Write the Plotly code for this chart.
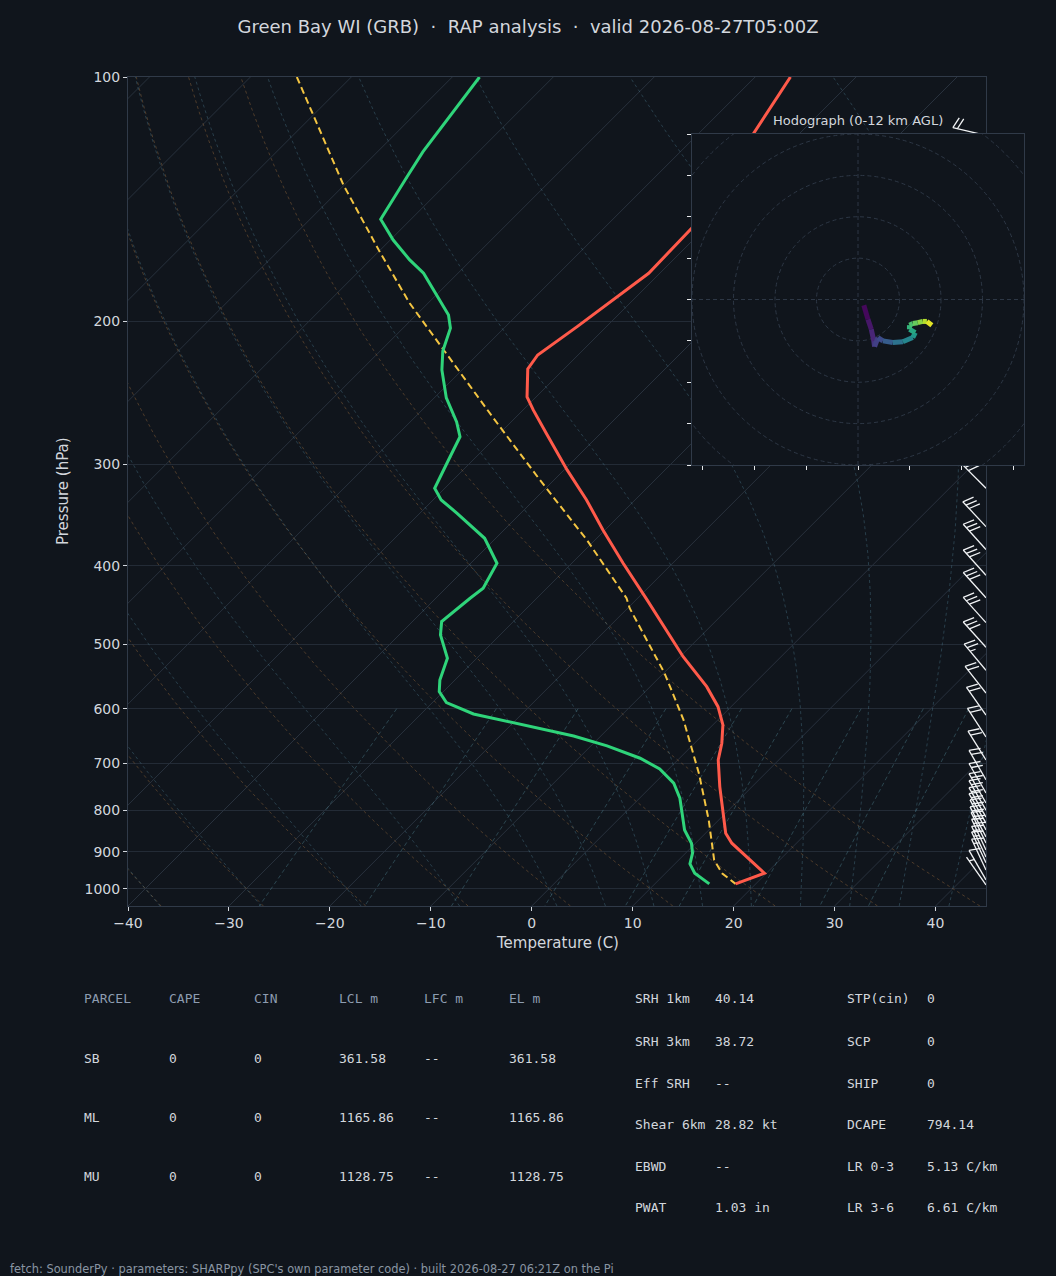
import numpy as np
import plotly.graph_objects as go
from plotly.colors import sample_colorscale

# ---------------- sounding data ----------------
t_pres = [100, 125, 153.5, 174.5, 188.2, 203.0, 220.0, 228.9, 247.8, 257.1, 274.7,
          304.8, 331.9, 361.4, 397.2, 440.7, 517.7, 563.6, 596.5, 628.3, 661.7,
          693.8, 748.4, 807.0, 854.1, 878.7, 930.0, 956.8, 986.2]
t_temp = [-56.5, -53.8, -51.3, -51.1, -52.0, -52.9, -54.0, -53.6, -50.9, -49.0, -45.4,
          -39.7, -34.8, -30.2, -24.9, -18.9, -9.7, -4.4, -1.3, 1.0, 2.7,
          4.0, 6.8, 9.8, 12.0, 13.6, 17.7, 19.8, 18.0]

td_pres = [100, 111.9, 123.6, 132.7, 149.7, 158.8, 168.0, 174.5, 196.4, 203.9, 217.5,
           229.6, 248.5, 266.0, 277.4, 293.6, 321.1, 331.9, 344.7, 370.0, 397.2,
           426.3, 438.6, 468.7, 486.7, 520.0, 553.0, 571.7, 589.8, 609.0, 626.5,
           648.2, 666.8, 690.5, 711.8, 741.2, 773.5, 807.0, 846.2, 878.7, 904.0,
           931.8, 956.8, 986.2]
td_temp = [-87.3, -86.3, -85.5, -84.6, -83.0, -79.7, -76.1, -73.4, -66.8, -65.3, -63.8,
           -62.0, -58.8, -55.4, -53.6, -52.6, -51.0, -49.2, -46.3, -41.1, -37.4,
           -36.3, -36.6, -37.1, -35.9, -32.9, -31.5, -30.4, -28.6, -24.8, -19.2,
           -12.7, -8.4, -3.9, -0.9, 1.9, 4.0, 5.7, 7.6, 9.6, 10.7,
           11.5, 12.9, 15.4]

parcel_pres = [100, 135.8, 164.1, 190.0, 218.0, 263.3, 313.6, 371.8, 438.6, 451.2,
               542.6, 619.4, 720.5, 822.5, 921.3, 956.8, 986.2]
parcel_temp = [-105.4, -90.1, -79.9, -71.8, -63.5, -52.1, -41.4, -30.8, -21.1, -19.8,
               -9.9, -3.4, 3.4, 9.0, 13.5, 15.6, 18.0]

barb_pres = [118, 150, 180, 210, 240, 270, 300, 321, 358, 382, 411, 438, 470, 504,
             538, 574, 611, 650, 694, 734, 762, 784, 800, 816, 830, 846, 863, 878,
             896, 914, 929, 948, 975, 989]
barb_dir = [283, 288, 292, 296, 300, 305, 310, 315, 317, 318, 318, 318, 318, 318,
            320, 322, 325, 327, 328, 330, 330, 330, 330, 330, 330, 332, 332, 334,
            335, 335, 335, 335, 330, 325]
barb_spd = [20, 25, 25, 25, 25, 25, 30, 30, 30, 30, 30, 30, 30, 30,
            25, 20, 20, 20, 20, 20, 20, 20, 20, 20, 20, 20, 20, 20,
            20, 15, 15, 15, 10, 5]

# hodograph (0-12 km AGL)
hodo_u = [1.4, 2.4, 3.2, 3.8, 4.0, 4.8, 6.0, 8.4, 10.8, 13.2, 13.8, 12.4, 12.4, 13.2,
          14.4, 15.6, 16.6, 17.8]
hodo_v = [-1.4, -4.8, -7.2, -10.0, -11.4, -9.2, -10.0, -10.4, -10.2, -9.2, -8.0, -7.2,
          -6.2, -5.8, -5.6, -5.3, -5.3, -6.2]
hodo_z = [0.0, 0.5, 1.0, 1.5, 2.0, 2.5, 3.0, 4.0, 5.0, 6.0, 6.8, 7.5, 8.2, 8.8,
          9.5, 10.3, 11.0, 12.0]

# SHARPpy parameter table
parcel_names = ["SB", "ML", "MU"]
parcel_cape = ["0", "0", "0"]
parcel_cin = ["0", "0", "0"]
parcel_lcl = ["361.58", "1165.86", "1128.75"]
parcel_lfc = ["--", "--", "--"]
parcel_el = ["361.58", "1165.86", "1128.75"]
table_head = ["PARCEL", "CAPE", "CIN", "LCL m", "LFC m", "EL m"]

kin_labels = ["SRH 1km", "SRH 3km", "Eff SRH", "Shear 6km", "EBWD", "PWAT"]
kin_values = ["40.14", "38.72", "--", "28.82 kt", "--", "1.03 in"]
comp_labels = ["STP(cin)", "SCP", "SHIP", "DCAPE", "LR 0-3", "LR 3-6"]
comp_values = ["0", "0", "0", "794.14", "5.13 C/km", "6.61 C/km"]

title = "Green Bay WI (GRB)  ·  RAP analysis  ·  valid 2026-08-27T05:00Z"
footer = ("fetch: SounderPy · parameters: SHARPpy (SPC's own parameter code) · "
          "built 2026-08-27 06:21Z on the Pi")

# ---------------- geometry ----------------
W, H = 1056, 1276
ML, MR, MT, MB = 128, 32, 77, 370
PW = W - ML - MR
PH = H - MT - MB
SKEW_W = 858
P_BOT, P_TOP = 1050.0, 100.0
T_MIN, T_MAX = -40.0, 45.0
PX_C = SKEW_W / (T_MAX - T_MIN)
PX_DEC = PH / (np.log10(P_BOT) - np.log10(P_TOP))
SKEW = PX_DEC / np.log(10) / PX_C   # gives 45 degree isotherms

BG = "#10151c"
GRID = "#232b36"
ISO = "#28313d"
AXL = "#303a48"
TXT = "#d3d7dd"
DIM = "#8d9cb0"
MONO = "DejaVu Sans Mono"


def skx(t, p):
    return np.asarray(t, float) + SKEW * np.log(P_BOT / np.asarray(p, float))


def ax(px):
    return (px - ML) / PW


def ay(py):
    return (MT + PH - py) / PH


def joined(lines):
    xs, ys = [], []
    for x, y in lines:
        xs += list(x) + [None]
        ys += list(y) + [None]
    return xs, ys


fig = go.Figure()

# isotherms
iso = []
for t in range(-130, 50, 10):
    iso.append((skx([t, t], [P_BOT, P_TOP]), [P_BOT, P_TOP]))
x, y = joined(iso)
fig.add_trace(go.Scatter(x=x, y=y, mode="lines", line=dict(color=ISO, width=1), hoverinfo="skip"))

# dry adiabats
pp = np.linspace(P_BOT, P_TOP, 100)
dry = []
for th in range(-40, 46, 10):
    tk = (th + 273.15) * (pp / 1000.0) ** 0.2857
    dry.append((skx(tk - 273.15, pp), pp))
x, y = joined(dry)
fig.add_trace(go.Scatter(x=x, y=y, mode="lines", hoverinfo="skip",
                         line=dict(color="rgba(175,120,65,0.38)", width=1, dash="3px,3px")))

# moist adiabats
RD, CP, LV, EPS = 287.04, 1005.7, 2.501e6, 0.622


def dtdlnp(tk, p):
    es = 6.112 * np.exp(17.67 * (tk - 273.15) / (tk - 29.65))
    rs = EPS * es / (p - es)
    return (RD * tk + LV * rs) / (CP + LV * LV * rs * EPS / (RD * tk * tk))


def moist(t0, plev):
    tk = t0 + 273.15
    out = [tk]
    for p0, p1 in zip(plev[:-1], plev[1:]):
        h = np.log(p1) - np.log(p0)
        pm = np.sqrt(p0 * p1)
        k1 = dtdlnp(tk, p0)
        k2 = dtdlnp(tk + 0.5 * h * k1, pm)
        k3 = dtdlnp(tk + 0.5 * h * k2, pm)
        k4 = dtdlnp(tk + h * k3, p1)
        tk = tk + h * (k1 + 2 * k2 + 2 * k3 + k4) / 6
        out.append(tk)
    return np.array(out) - 273.15


p_up = np.linspace(1000, P_TOP, 181)
p_dn = np.linspace(1000, P_BOT, 11)
wet = []
for t0 in list(range(-40, 0, 10)) + list(range(0, 46, 5)):
    tu = moist(t0, p_up)
    td_ = moist(t0, p_dn)
    pl = np.concatenate([p_dn[::-1], p_up[1:]])
    tl = np.concatenate([td_[::-1], tu[1:]])
    wet.append((skx(tl, pl), pl))
x, y = joined(wet)
fig.add_trace(go.Scatter(x=x, y=y, mode="lines", hoverinfo="skip",
                         line=dict(color="rgba(80,130,150,0.38)", width=1, dash="3px,3px")))

# mixing ratio lines
pm_ = np.linspace(600, P_BOT, 10)
mix = []
for w in [0.0004, 0.001, 0.002, 0.004, 0.007, 0.01, 0.016, 0.024, 0.032]:
    e = pm_ * w / (EPS + w)
    le = np.log(e / 6.112)
    tdw = 243.5 * le / (17.67 - le)
    mix.append((skx(tdw, pm_), pm_))
x, y = joined(mix)
fig.add_trace(go.Scatter(x=x, y=y, mode="lines", hoverinfo="skip",
                         line=dict(color="rgba(80,135,150,0.42)", width=1, dash="4px,3px")))

# profiles
fig.add_trace(go.Scatter(x=skx(parcel_temp, parcel_pres), y=parcel_pres, mode="lines",
                         line=dict(color="#f4c542", width=2, dash="7px,4px")))
fig.add_trace(go.Scatter(x=skx(td_temp, td_pres), y=td_pres, mode="lines",
                         line=dict(color="#2fd47a", width=3)))
fig.add_trace(go.Scatter(x=skx(t_temp, t_pres), y=t_pres, mode="lines",
                         line=dict(color="#ff5a4a", width=3)))

# wind barbs at the right edge
L, FH, FW, SP = 34.0, 11.0, 4.0, 4.6


def barb(p, d, spd):
    r = np.radians(d)
    s = np.array([np.sin(r), -np.cos(r)])
    q = np.array([np.cos(r), np.sin(r)])
    segs = [[np.zeros(2), L * s]]
    n10 = int(spd // 10)
    n5 = int((spd % 10) // 5)
    off = L
    if n10 == 0 and n5:
        off -= SP
    for _ in range(n10):
        b = off * s
        segs.append([b, b + FH * q - FW * s])
        off -= SP
    for _ in range(n5):
        b = off * s
        segs.append([b, b + 0.5 * FH * q - 0.5 * FW * s])
    out = []
    for a, c in segs:
        xs = [T_MAX + a[0] / PX_C, T_MAX + c[0] / PX_C]
        ys = [10 ** (np.log10(p) + a[1] / PX_DEC), 10 ** (np.log10(p) + c[1] / PX_DEC)]
        out.append((xs, ys))
    return out


bl = []
for p, d, v in zip(barb_pres, barb_dir, barb_spd):
    bl += barb(p, d, v)
x, y = joined(bl)
fig.add_trace(go.Scatter(x=x, y=y, mode="lines", line=dict(color="#f2f4f6", width=1.3),
                         hoverinfo="skip"))

# hodograph
zc = [(a + b) / 2 / 12.0 for a, b in zip(hodo_z[:-1], hodo_z[1:])]
cols = sample_colorscale("Viridis", zc)
for i in range(len(hodo_u) - 1):
    fig.add_trace(go.Scatter(x=hodo_u[i:i + 2], y=hodo_v[i:i + 2], mode="lines",
                             line=dict(color=cols[i], width=5), xaxis="x2", yaxis="y2",
                             hoverinfo="skip"))

shapes = []
for rr in [10, 20, 30, 40, 50]:
    shapes.append(dict(type="circle", xref="x2", yref="y2", x0=-rr, x1=rr, y0=-rr, y1=rr,
                       line=dict(color="#2d3745", width=1, dash="4px,3px"), layer="below"))
shapes.append(dict(type="line", xref="x2", yref="y2", x0=-40, x1=40, y0=0, y1=0,
                   line=dict(color="#2d3745", width=1, dash="4px,3px"), layer="below"))
shapes.append(dict(type="line", xref="x2", yref="y2", x0=0, x1=0, y0=-40, y1=40,
                   line=dict(color="#2d3745", width=1, dash="4px,3px"), layer="below"))

ann = []
ann.append(dict(text="Hodograph (0-12 km AGL)", x=ax(858), y=ay(120), xref="paper", yref="paper",
                showarrow=False, xanchor="center", yanchor="middle",
                font=dict(size=13, color=TXT)))
ann.append(dict(text="Pressure (hPa)", x=ax(63), y=ay(491), xref="paper", yref="paper",
                showarrow=False, textangle=-90, xanchor="center", yanchor="middle",
                font=dict(size=15, color=TXT)))
ann.append(dict(text="Temperature (C)", x=ax(557), y=ay(943), xref="paper", yref="paper",
                showarrow=False, xanchor="center", yanchor="middle",
                font=dict(size=15, color=TXT)))


def txt(s, px, py, color, size=13, family=MONO):
    # annotations carry ~2px of padding on the left
    ann.append(dict(text=s, x=ax(px - 2), y=ay(py), xref="paper", yref="paper", showarrow=False,
                    xanchor="left", yanchor="middle", font=dict(size=size, color=color, family=family)))


col_x = [84, 169, 254, 339, 424, 509]
for h_, cx in zip(table_head, col_x):
    txt(h_, cx, 999, DIM)
rows = list(zip(parcel_names, parcel_cape, parcel_cin, parcel_lcl, parcel_lfc, parcel_el))
for r_, ry in zip(rows, [1058, 1117, 1176]):
    for v, cx in zip(r_, col_x):
        txt(v, cx, ry, TXT)

row_y = [999, 1041, 1083, 1124, 1166, 1207]
for i, ry in enumerate(row_y):
    txt(kin_labels[i], 635, ry, TXT)
    txt(kin_values[i], 715, ry, TXT)
    txt(comp_labels[i], 847, ry, TXT)
    txt(comp_values[i], 927, ry, TXT)

txt(footer, 10, 1269, "#8a95a3", size=11.4, family="DejaVu Sans")

fig.update_layout(
    width=W, height=H,
    margin=dict(l=ML, r=MR, t=MT, b=MB),
    paper_bgcolor=BG, plot_bgcolor=BG,
    showlegend=False,
    font=dict(family="DejaVu Sans", color=TXT, size=14),
    title=dict(text=title, x=0.5, xref="container", xanchor="center",
               y=1 - 27 / H, yref="container", yanchor="middle",
               font=dict(size=18, color=TXT)),
    xaxis=dict(domain=[0, SKEW_W / PW], range=[T_MIN, T_MAX], tickvals=list(range(-40, 41, 10)),
               ticks="outside", ticklen=4, tickcolor=TXT, showgrid=False, zeroline=False,
               showline=True, mirror=True, linecolor=AXL, tickfont=dict(size=14, color=TXT)),
    yaxis=dict(domain=[0, 1], type="log", range=[np.log10(P_BOT), np.log10(P_TOP)],
               tickvals=list(range(100, 1001, 100)), ticktext=[str(v) for v in range(100, 1001, 100)],
               ticks="outside", ticklen=4, tickcolor=TXT, showgrid=True, gridcolor=GRID,
               zeroline=False, showline=True, mirror=True, linecolor=AXL,
               tickfont=dict(size=14, color=TXT)),
    xaxis2=dict(domain=[ax(692), 1.0], range=[-40, 40], anchor="y2",
                tickvals=[-37.5, -25, -12.5, 0, 12.5, 25, 37.5], showticklabels=False,
                ticks="outside", ticklen=4, tickcolor="#e6e8ea", showgrid=False, zeroline=False,
                showline=True, mirror=True, linecolor=AXL),
    yaxis2=dict(domain=[ay(465), ay(134)], range=[-40, 40], anchor="x2",
                tickvals=list(range(-40, 41, 10)), showticklabels=False,
                ticks="outside", ticklen=4, tickcolor="#e6e8ea", showgrid=False, zeroline=False,
                showline=True, mirror=True, linecolor=AXL),
    shapes=shapes,
    annotations=ann,
)

# page body has an 8px default margin; drop it so the figure sits at the window corner
fig.write_html("out.html", config={"displayModeBar": False},
               post_script="document.body.style.margin='0';")
